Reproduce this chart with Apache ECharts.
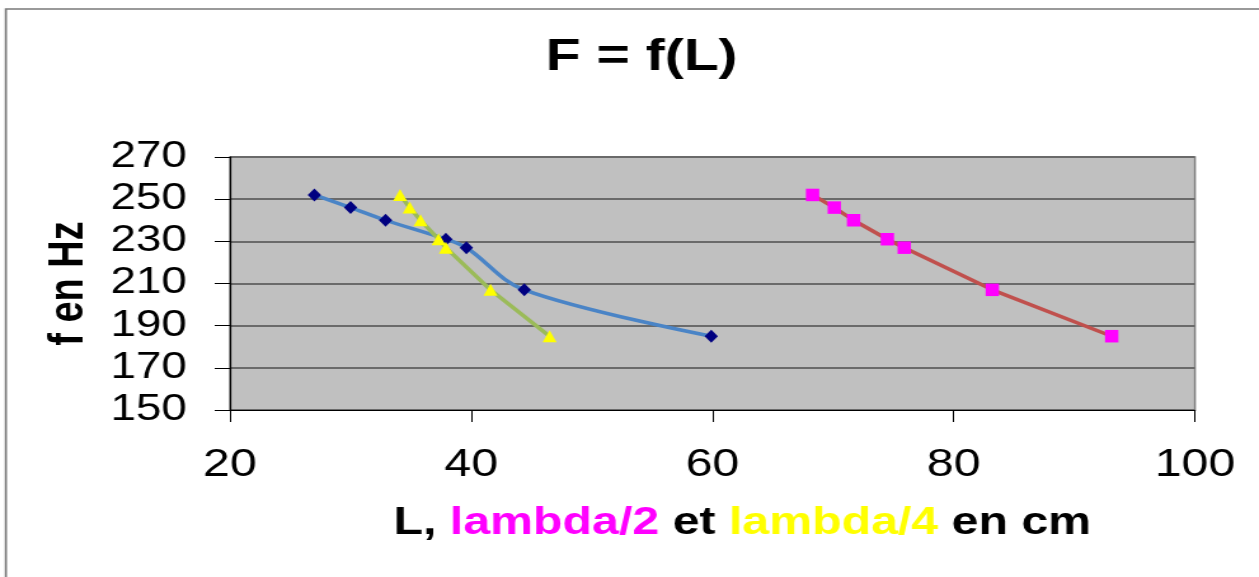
<!DOCTYPE html>
<html>
<head>
<meta charset="utf-8">
<script src="https://cdn.jsdelivr.net/npm/echarts@6/dist/echarts.min.js"></script>
<style>
  html, body { margin: 0; padding: 0; background: #ffffff; overflow: hidden; }
  /* The chart is laid out narrower and stretched horizontally, giving the wide lettering of the sheet. */
  #chart { width: 991px; height: 577px; transform: scaleX(1.2704); transform-origin: 0 0; }
</style>
</head>
<body>
<div id="chart"></div>
<script>
// Frequencies (Hz) and the measured lengths (cm) for each one
const freq = [252, 246, 240, 231, 227, 207, 185];
const lengthL = [27.0, 30.0, 32.9, 37.9, 39.6, 44.4, 59.9];
const halfLambda = [68.3, 70.1, 71.7, 74.5, 75.9, 83.2, 93.1];
const quarterLambda = [34.1, 34.9, 35.8, 37.3, 37.9, 41.6, 46.5];

const xTicks = [20, 40, 60, 80, 100];
const yTicks = [150, 170, 190, 210, 230, 250, 270];

const FONT = "'Liberation Sans', Arial, sans-serif";

function pairs(xs, ys) {
  return xs.map((x, i) => [x, ys[i]]);
}

const chart = echarts.init(document.getElementById('chart'), null, { renderer: 'canvas' });

chart.setOption({
  backgroundColor: '#ffffff',
  animation: false,
  graphic: [{
    type: 'rect',
    silent: true,
    z: 100,
    shape: { x: 4.6, y: 9, width: 2000, height: 1000 },
    style: { fill: 'none', stroke: '#7a7a7a', lineWidth: 1.7 }
  }],
  title: {
    text: 'F = f(L)',
    left: 500,
    textAlign: 'center',
    top: 30,
    textStyle: { fontFamily: FONT, fontSize: 45, fontWeight: 'bold', color: '#000000' }
  },
  grid: {
    left: 181,
    right: 50.4,
    top: 157,
    bottom: 167,
    show: true,
    backgroundColor: '#c0c0c0',
    borderColor: '#808080',
    borderWidth: 1.5
  },
  xAxis: {
    type: 'value',
    min: xTicks[0],
    max: xTicks[xTicks.length - 1],
    interval: 20,
    name: '{k|L, }{m|lambda/2}{k| et }{y|lambda/4}{k| en cm}',
    nameLocation: 'middle',
    nameGap: 95,
    nameTextStyle: {
      padding: [0, 0, 0, 47],
      rich: {
        k: { fontFamily: FONT, fontSize: 38, fontWeight: 'bold', color: '#000000' },
        m: { fontFamily: FONT, fontSize: 38, fontWeight: 'bold', color: '#ff00ff' },
        y: { fontFamily: FONT, fontSize: 38, fontWeight: 'bold', color: '#ffff00' }
      }
    },
    axisLine: { show: true, onZero: false, lineStyle: { color: '#000000', width: 1.2 } },
    axisTick: { show: true, inside: false, length: 12, lineStyle: { color: '#000000', width: 1 } },
    axisLabel: {
      margin: 37,
      fontFamily: FONT,
      fontSize: 38,
      color: '#000000',
      formatter: v => (xTicks.includes(v) ? String(v) : '')
    },
    splitLine: { show: false }
  },
  yAxis: {
    type: 'value',
    min: yTicks[0],
    max: yTicks[yTicks.length - 1],
    interval: 20,
    name: 'f en Hz',
    nameLocation: 'middle',
    nameGap: 107,
    nameTextStyle: { fontFamily: FONT, fontSize: 38, fontWeight: 'bold', color: '#000000' },
    axisLine: { show: true, onZero: false, lineStyle: { color: '#000000', width: 1.2 } },
    axisTick: { show: true, inside: false, length: 12, lineStyle: { color: '#000000', width: 1 } },
    axisLabel: {
      margin: 34,
      fontFamily: FONT,
      fontSize: 36,
      color: '#000000',
      formatter: v => (yTicks.includes(v) ? String(v) : '')
    },
    splitLine: { show: true, lineStyle: { color: '#6a6a6a', width: 2 } }
  },
  series: [
    {
      name: 'L',
      type: 'line',
      data: pairs(lengthL, freq),
      smooth: 0.35,
      lineStyle: { color: '#4a84c6', width: 3.5 },
      symbol: 'diamond',
      symbolSize: [10.5, 13],
      itemStyle: { color: '#000080', borderWidth: 0 },
      z: 2
    },
    {
      name: 'lambda/2',
      type: 'line',
      data: pairs(halfLambda, freq),
      lineStyle: { color: '#c0504d', width: 3.5 },
      symbol: 'rect',
      symbolSize: [10.5, 12.5],
      itemStyle: { color: '#ff00ff', borderWidth: 0 },
      z: 3
    },
    {
      name: 'lambda/4',
      type: 'line',
      data: pairs(quarterLambda, freq),
      lineStyle: { color: '#9bbb59', width: 3.5 },
      symbol: 'triangle',
      symbolSize: [11, 12],
      itemStyle: { color: '#ffff00', borderWidth: 0 },
      z: 4
    }
  ]
});
</script>
</body>
</html>
